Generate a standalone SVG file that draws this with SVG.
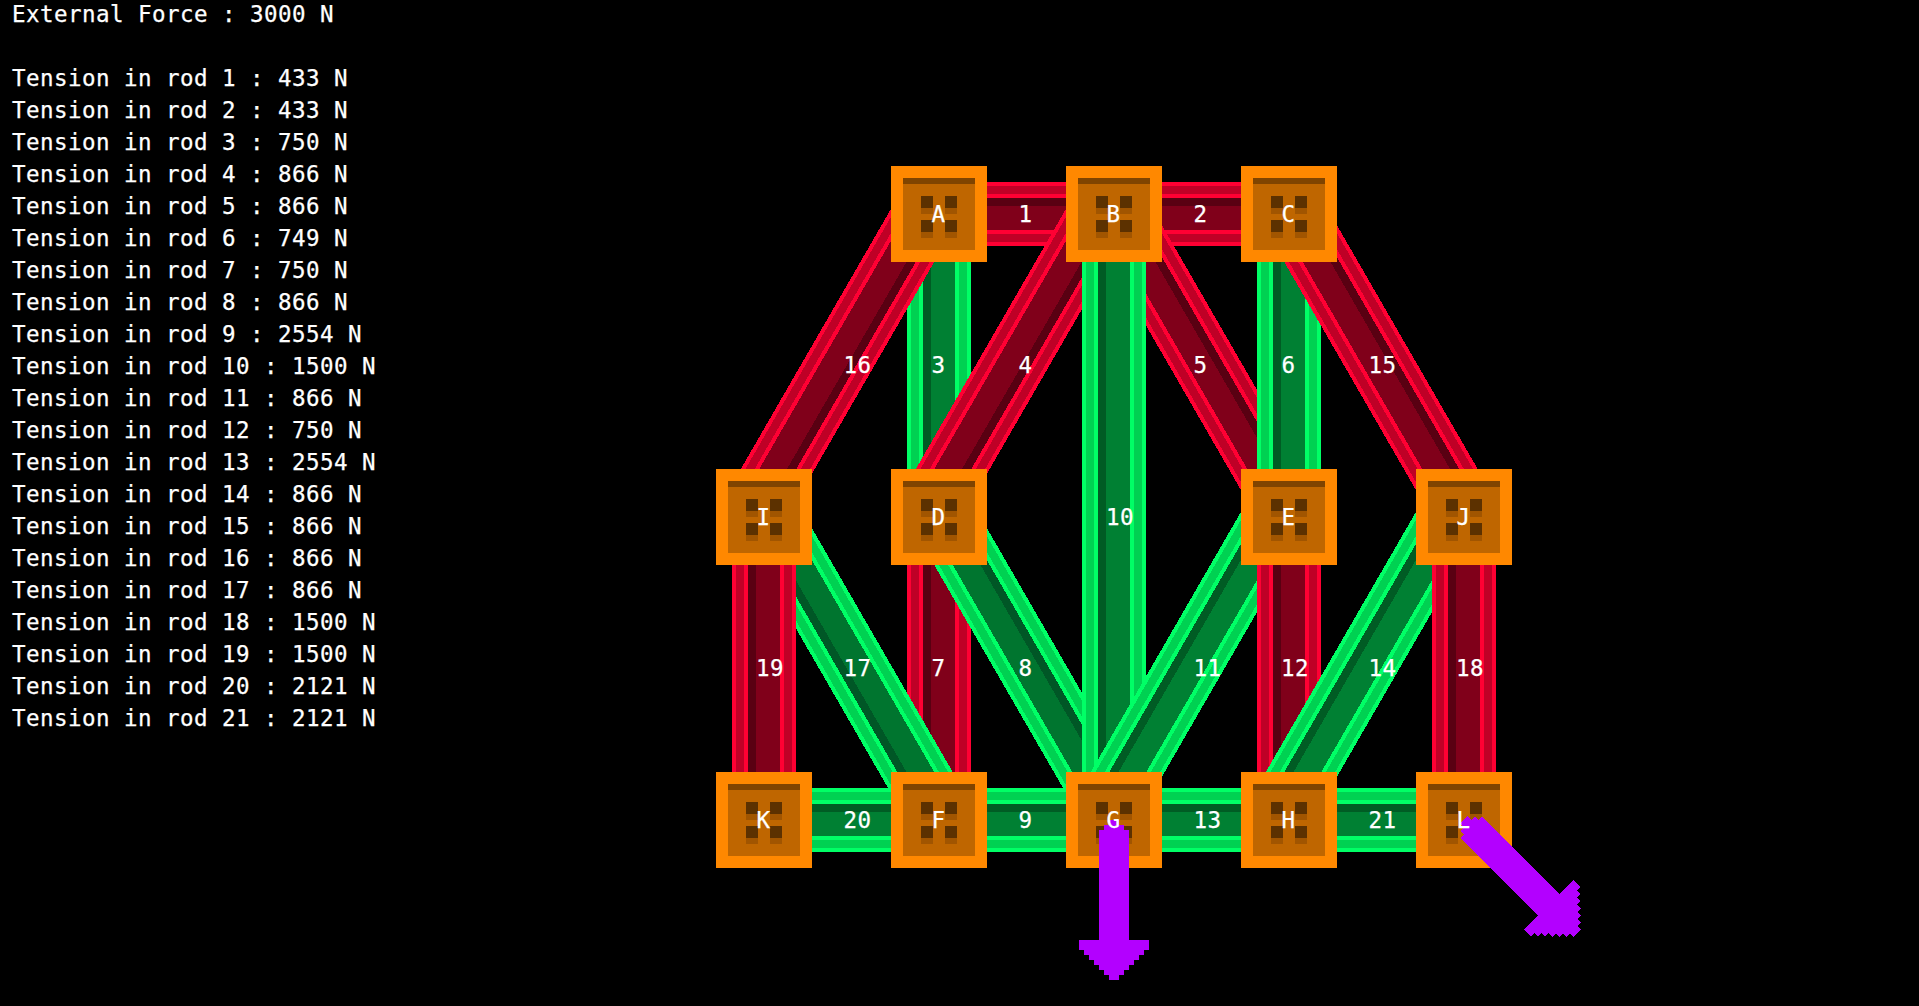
<svg xmlns="http://www.w3.org/2000/svg" xmlns:xlink="http://www.w3.org/1999/xlink" width="1919" height="1006" viewBox="0 0 1919 1006">
<style>
text{font-family:"DejaVu Sans Mono","Liberation Mono",monospace;font-size:22.5px;letter-spacing:.45px;fill:#fff;stroke:#fff;stroke-width:.25px}
.r{fill:url(#red);shape-rendering:crispEdges}
.g{fill:url(#green);shape-rendering:crispEdges}
.g2{fill:url(#green2);shape-rendering:crispEdges}
.c{shape-rendering:crispEdges}
.f{fill:#b300ff;shape-rendering:crispEdges}
</style>
<defs>
<linearGradient id="red" gradientUnits="userSpaceOnUse" x1="0" y1="-32" x2="0" y2="32">
<stop offset="0" stop-color="#ff0033"/><stop offset=".0625" stop-color="#ff0033"/><stop offset=".0625" stop-color="#bf0026"/><stop offset=".1875" stop-color="#bf0026"/><stop offset=".1875" stop-color="#ff0033"/><stop offset=".25" stop-color="#ff0033"/><stop offset=".25" stop-color="#590012"/><stop offset=".375" stop-color="#590012"/><stop offset=".375" stop-color="#80001a"/><stop offset=".75" stop-color="#80001a"/><stop offset=".75" stop-color="#ff0033"/><stop offset=".8125" stop-color="#ff0033"/><stop offset=".8125" stop-color="#bf0026"/><stop offset=".9375" stop-color="#bf0026"/><stop offset=".9375" stop-color="#ff0033"/><stop offset="1" stop-color="#ff0033"/>
</linearGradient>
<linearGradient id="green" gradientUnits="userSpaceOnUse" x1="0" y1="-32" x2="0" y2="32">
<stop offset="0" stop-color="#00ff66"/><stop offset=".0625" stop-color="#00ff66"/><stop offset=".0625" stop-color="#00d152"/><stop offset=".1875" stop-color="#00d152"/><stop offset=".1875" stop-color="#00ff66"/><stop offset=".25" stop-color="#00ff66"/><stop offset=".25" stop-color="#005c24"/><stop offset=".375" stop-color="#005c24"/><stop offset=".375" stop-color="#008033"/><stop offset=".75" stop-color="#008033"/><stop offset=".75" stop-color="#00ff66"/><stop offset=".8125" stop-color="#00ff66"/><stop offset=".8125" stop-color="#00d152"/><stop offset=".9375" stop-color="#00d152"/><stop offset=".9375" stop-color="#00ff66"/><stop offset="1" stop-color="#00ff66"/>
</linearGradient>
<linearGradient id="green2" gradientUnits="userSpaceOnUse" x1="0" y1="-32" x2="0" y2="32">
<stop offset="0" stop-color="#00ff66"/><stop offset=".0625" stop-color="#00ff66"/><stop offset=".0625" stop-color="#00d152"/><stop offset=".1875" stop-color="#00d152"/><stop offset=".1875" stop-color="#00ff66"/><stop offset=".25" stop-color="#00ff66"/><stop offset=".25" stop-color="#005726"/><stop offset=".375" stop-color="#005726"/><stop offset=".375" stop-color="#00752f"/><stop offset=".75" stop-color="#00752f"/><stop offset=".75" stop-color="#00ff66"/><stop offset=".8125" stop-color="#00ff66"/><stop offset=".8125" stop-color="#00d152"/><stop offset=".9375" stop-color="#00d152"/><stop offset=".9375" stop-color="#00ff66"/><stop offset="1" stop-color="#00ff66"/>
</linearGradient>
<g id="body" class="c">
<rect x="-48" y="-48" width="96" height="96" fill="#ff8800"/>
<rect x="-36" y="-36" width="72" height="72" fill="#bf6600"/>
<rect x="-36" y="-36" width="72" height="6" fill="#804400"/>
<g fill="#a15500"><rect x="-18" y="-18" width="12" height="18"/><rect x="6" y="-18" width="12" height="18"/><rect x="-18" y="6" width="12" height="18"/><rect x="6" y="6" width="12" height="18"/></g>
<g fill="#5c3100"><rect x="-18" y="-18" width="12" height="12"/><rect x="6" y="-18" width="12" height="12"/><rect x="-18" y="6" width="12" height="12"/><rect x="6" y="6" width="12" height="12"/></g>
</g>
<polygon id="force" points="-5,0 5,0 5,5 10,5 10,10 15,10 15,120 35,120 35,130 30,130 30,135 25,135 25,140 20,140 20,145 15,145 15,150 10,150 10,155 5,155 5,160 -5,160 -5,155 -10,155 -10,150 -15,150 -15,145 -20,145 -20,140 -25,140 -25,135 -30,135 -30,130 -35,130 -35,120 -15,120 -15,10 -10,10 -10,5 -5,5"/>
</defs>
<rect width="1919" height="1006" fill="#000"/>
<g id="readout">
<text x="12" y="22">External Force : 3000 N</text>
<text x="12" y="86">Tension in rod 1 : 433 N</text>
<text x="12" y="118">Tension in rod 2 : 433 N</text>
<text x="12" y="150">Tension in rod 3 : 750 N</text>
<text x="12" y="182">Tension in rod 4 : 866 N</text>
<text x="12" y="214">Tension in rod 5 : 866 N</text>
<text x="12" y="246">Tension in rod 6 : 749 N</text>
<text x="12" y="278">Tension in rod 7 : 750 N</text>
<text x="12" y="310">Tension in rod 8 : 866 N</text>
<text x="12" y="342">Tension in rod 9 : 2554 N</text>
<text x="12" y="374">Tension in rod 10 : 1500 N</text>
<text x="12" y="406">Tension in rod 11 : 866 N</text>
<text x="12" y="438">Tension in rod 12 : 750 N</text>
<text x="12" y="470">Tension in rod 13 : 2554 N</text>
<text x="12" y="502">Tension in rod 14 : 866 N</text>
<text x="12" y="534">Tension in rod 15 : 866 N</text>
<text x="12" y="566">Tension in rod 16 : 866 N</text>
<text x="12" y="598">Tension in rod 17 : 866 N</text>
<text x="12" y="630">Tension in rod 18 : 1500 N</text>
<text x="12" y="662">Tension in rod 19 : 1500 N</text>
<text x="12" y="694">Tension in rod 20 : 2121 N</text>
<text x="12" y="726">Tension in rod 21 : 2121 N</text>
</g>
<g id="connectors">
<rect id="rod-1" class="r" x="-87.5" y="-32" width="175" height="64" transform="translate(1026.5 214)"/>
<rect id="rod-2" class="r" x="-87.5" y="-32" width="175" height="64" transform="translate(1201.5 214)"/>
<rect id="rod-3" class="g" x="-151.5" y="-32" width="303" height="64" transform="translate(939 365.5) rotate(-90)"/>
<rect id="rod-4" class="r" x="-175" y="-32" width="350" height="64" transform="translate(1012.5 365.5) rotate(120)"/>
<rect id="rod-5" class="r" x="-175" y="-32" width="350" height="64" transform="translate(1206 365.5) rotate(60)"/>
<rect id="rod-6" class="g" x="-151.5" y="-32" width="303" height="64" transform="translate(1289 365.5) rotate(-90)"/>
<rect id="rod-7" class="r" x="-151.5" y="-32" width="303" height="64" transform="translate(939 668.5) rotate(-90)"/>
<rect id="rod-8" class="g2" x="-175" y="-32" width="350" height="64" transform="translate(1031 668.5) rotate(60)"/>
<rect id="rod-9" class="g" x="-87.5" y="-32" width="175" height="64" transform="translate(1026.5 820)"/>
<rect id="rod-10" class="g" x="-303" y="-32" width="606" height="64" transform="translate(1114 517) rotate(-90)"/>
<rect id="rod-11" class="g" x="-175" y="-32" width="350" height="64" transform="translate(1187.5 668.5) rotate(-60)"/>
<rect id="rod-12" class="r" x="-151.5" y="-32" width="303" height="64" transform="translate(1289 668.5) rotate(-90)"/>
<rect id="rod-13" class="g" x="-87.5" y="-32" width="175" height="64" transform="translate(1201.5 820)"/>
<rect id="rod-14" class="g" x="-175" y="-32" width="350" height="64" transform="translate(1362.5 668.5) rotate(-60)"/>
<rect id="rod-15" class="r" x="-175" y="-32" width="350" height="64" transform="translate(1381 365.5) rotate(60)"/>
<rect id="rod-16" class="r" x="-175" y="-32" width="350" height="64" transform="translate(837.5 365.5) rotate(120)"/>
<rect id="rod-17" class="g2" x="-175" y="-32" width="350" height="64" transform="translate(856 668.5) rotate(-120)"/>
<rect id="rod-18" class="r" x="-151.5" y="-32" width="303" height="64" transform="translate(1464 668.5) rotate(-90)"/>
<rect id="rod-19" class="r" x="-151.5" y="-32" width="303" height="64" transform="translate(764 668.5) rotate(-90)"/>
<rect id="rod-20" class="g" x="-87.5" y="-32" width="175" height="64" transform="translate(851.5 820)"/>
<rect id="rod-21" class="g" x="-87.5" y="-32" width="175" height="64" transform="translate(1376.5 820)"/>
<g id="rod-labels">
<text x="1018.5" y="222">1</text><text x="1193.5" y="222">2</text>
<text x="931.5" y="373">3</text><text x="1018.5" y="373">4</text><text x="1193.5" y="373">5</text><text x="1281.5" y="373">6</text>
<text x="931.5" y="676">7</text><text x="1018.5" y="676">8</text><text x="1018.5" y="828">9</text>
<text x="1106" y="525">10</text><text x="1193.5" y="676">11</text><text x="1281" y="676">12</text><text x="1193.5" y="828">13</text>
<text x="1368.5" y="676">14</text><text x="1368.5" y="373">15</text><text x="843.5" y="373">16</text><text x="843.5" y="676">17</text>
<text x="1456" y="676">18</text><text x="756" y="676">19</text><text x="843.5" y="828">20</text><text x="1368.5" y="828">21</text>
</g>
</g>
<g id="node-A" transform="translate(939 214)"><use href="#body"/><text x="-7.5" y="8">A</text></g>
<g id="node-B" transform="translate(1114 214)"><use href="#body"/><text x="-7.5" y="8">B</text></g>
<g id="node-C" transform="translate(1289 214)"><use href="#body"/><text x="-7.5" y="8">C</text></g>
<g id="node-I" transform="translate(764 517)"><use href="#body"/><text x="-7.5" y="8">I</text></g>
<g id="node-D" transform="translate(939 517)"><use href="#body"/><text x="-7.5" y="8">D</text></g>
<g id="node-E" transform="translate(1289 517)"><use href="#body"/><text x="-7.5" y="8">E</text></g>
<g id="node-J" transform="translate(1464 517)"><use href="#body"/><text x="-7.5" y="8">J</text></g>
<g id="node-K" transform="translate(764 820)"><use href="#body"/><text x="-7.5" y="8">K</text></g>
<g id="node-F" transform="translate(939 820)"><use href="#body"/><text x="-7.5" y="8">F</text></g>
<g id="node-G" transform="translate(1114 820)"><use href="#body"/><use href="#force" class="f"/><text x="-7.5" y="8">G</text></g>
<g id="node-H" transform="translate(1289 820)"><use href="#body"/><text x="-7.5" y="8">H</text></g>
<g id="node-L" transform="translate(1464 820)"><use href="#body"/><use href="#force" class="f" transform="rotate(-45)"/><text x="-7.5" y="8">L</text></g>
</svg>
